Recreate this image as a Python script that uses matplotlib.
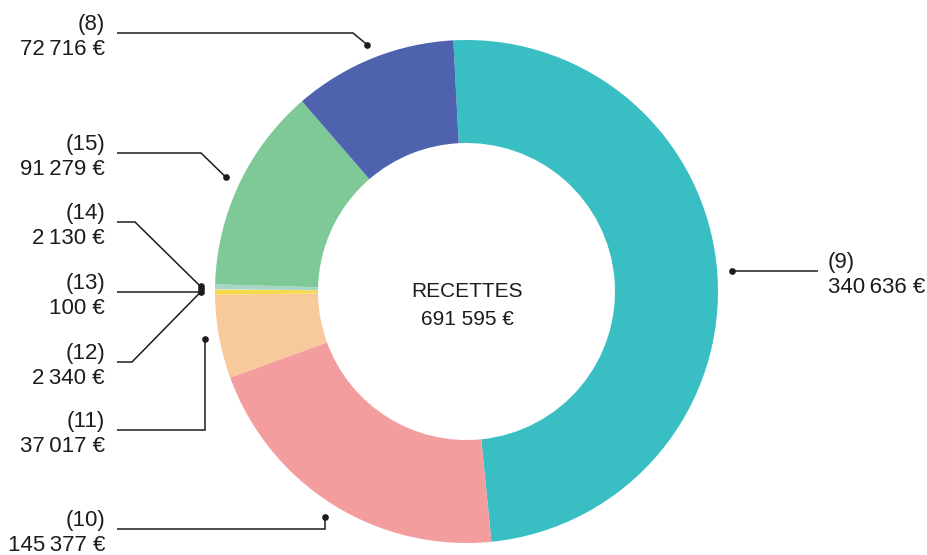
import math
import matplotlib.pyplot as plt

plt.rcParams['font.family'] = ['Liberation Sans', 'DejaVu Sans']

# segments, clockwise from the top
labels = ["(9)", "(10)", "(11)", "(12)", "(13)", "(14)", "(15)", "(8)"]
values = [340636, 145377, 37017, 2340, 100, 2130, 91279, 72716]
colors = ["#39bfc3", "#f49d9f", "#f8c99b", "#f6da4c", "#e2e2e2",
          "#a7d6c6", "#7fc998", "#4f62ae"]
center_title = "RECETTES"
center_total = "691 595 €"

# label placement (pixels, y measured from the top)
leader_y = [None, 529, 430, 362, 292, 222, 153, 33]
elbow_x = [None, None, None, 132, None, 135, 201, 353]

W, H = 928, 555
CX, CY = 466.5, 291.5
R_OUT, R_IN = 251.5, 148.5
START = 93
INK = "#1c1c1c"


def fy(y):
    """Pixel row -> data y."""
    return H - y


def euros(v):
    return f"{v:,}".replace(",", "\u202f") + " €"


fig = plt.figure(figsize=(W / 100, H / 100), dpi=100)
ax = fig.add_axes([0, 0, 1, 1])

ax.pie(
    values,
    colors=colors,
    startangle=START,
    counterclock=False,
    center=(CX, fy(CY)),
    radius=R_OUT,
    wedgeprops=dict(width=R_OUT - R_IN, linewidth=0),
)

total = sum(values)
cum = 0
for i, (lab, v) in enumerate(zip(labels, values)):
    mid = math.radians(START - (cum + v / 2) / total * 360)
    cum += v
    dx = CX + 266 * math.cos(mid)
    dy = CY - 266 * math.sin(mid)

    if leader_y[i] is None:
        # right-hand label
        xs, ys = [dx, 818], [dy, dy]
        ly = dy
        tx, ha = 828, "left"
    else:
        ly = leader_y[i]
        ex = dx if elbow_x[i] is None else elbow_x[i]
        xs, ys = [117, ex, dx], [ly, ly, dy]
        tx, ha = 105, "right"

    ax.plot(xs, [fy(y) for y in ys], color=INK, lw=1.1,
            solid_capstyle="butt", solid_joinstyle="miter")
    ax.plot(dx, fy(dy), "o", color=INK, markersize=3.8)
    ax.text(tx, fy(ly - 3), lab, ha=ha, va="baseline",
            fontsize=16, color=INK)
    ax.text(tx, fy(ly + 22), euros(v), ha=ha, va="baseline",
            fontsize=16, color=INK)

ax.text(CX + 1, fy(297), center_title, ha="center", va="baseline",
        fontsize=15, color=INK)
ax.text(CX + 1, fy(325), center_total, ha="center", va="baseline",
        fontsize=15, color=INK)

ax.set_xlim(0, W)
ax.set_ylim(0, H)
ax.set_aspect("auto")
ax.axis("off")

fig.savefig("out.png", dpi=100, facecolor="white")
